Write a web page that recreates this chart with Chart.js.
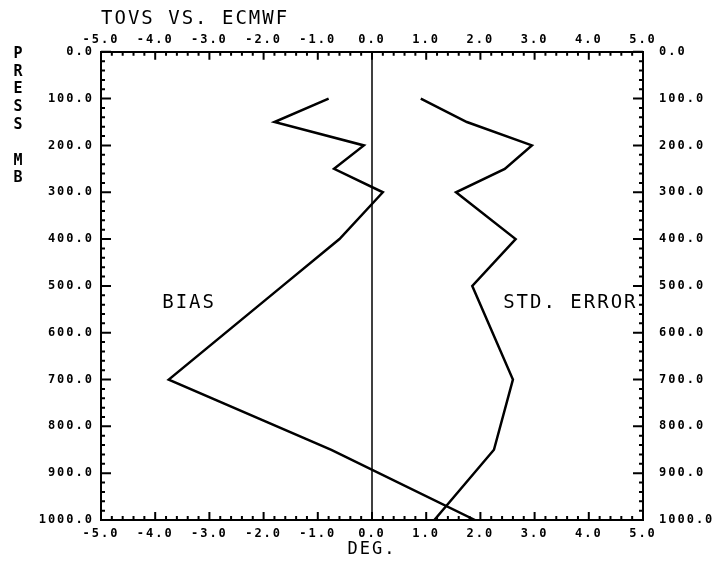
<!DOCTYPE html>
<html>
<head>
<meta charset="utf-8">
<title>TOVS vs. ECMWF</title>
<script src="https://cdn.jsdelivr.net/npm/chart.js@4.4.1/dist/chart.umd.min.js"></script>
<style>
  html, body { margin: 0; padding: 0; background: #fff; }
  #wrap { width: 714px; height: 562px; }
</style>
</head>
<body>
<div id="wrap"><canvas id="chart-area" width="714" height="562"></canvas></div>
<script>
// pressure levels (mb) and the two profiles (deg)
var levels = [100, 150, 200, 250, 300, 400, 500, 700, 850, 1000];
var bias = [-0.8, -1.8, -0.15, -0.7, 0.2, -0.6, -1.65, -3.75, -0.75, 1.9];
var stdError = [0.9, 1.75, 2.95, 2.45, 1.55, 2.65, 1.85, 2.6, 2.25, 1.15];

var degTicks = [-5, -4, -3, -2, -1, 0, 1, 2, 3, 4, 5];
var pressTicks = [0, 100, 200, 300, 400, 500, 600, 700, 800, 900, 1000];

var axisLetters = ['P', 'R', 'E', 'S', 'S', '', 'M', 'B'];
var notes = [
    { text: 'BIAS', deg: -3.87, press: 536 },
    { text: 'STD. ERROR', deg: 2.42, press: 536 }
];

var MONO = "'DejaVu Sans Mono', monospace";

function toPoints(xs) {
    return levels.map(function (p, i) { return { x: xs[i], y: p }; });
}

function fmt(v) {
    return Number(v).toFixed(1);
}

function fixTicks(list) {
    return function (scale) {
        scale.ticks = list.map(function (v) { return { value: v }; });
    };
}

var plotterText = {
    id: 'plotterText',
    beforeDraw: function (chart) {
        chart.ctx.letterSpacing = '2px';
    },
    afterDraw: function (chart) {
        var ctx = chart.ctx, a = chart.chartArea;
        var x = chart.scales.x, y = chart.scales.y;
        ctx.save();
        ctx.strokeStyle = '#000';
        ctx.lineWidth = 2;
        ctx.beginPath();
        // inward ticks, 0.2 deg and 20 mb
        for (var i = 0; i <= 50; i++) {
            var px = x.getPixelForValue(-5 + i * 0.2);
            var len = i % 5 === 0 ? 8 : 4;
            ctx.moveTo(px, a.top); ctx.lineTo(px, a.top + len);
            ctx.moveTo(px, a.bottom); ctx.lineTo(px, a.bottom - len);
        }
        for (var j = 0; j <= 50; j++) {
            var py = y.getPixelForValue(j * 20);
            var l2 = j % 5 === 0 ? 10 : 4;
            ctx.moveTo(a.left, py); ctx.lineTo(a.left + l2, py);
            ctx.moveTo(a.right, py); ctx.lineTo(a.right - l2, py);
        }
        ctx.stroke();

        ctx.fillStyle = '#000';
        ctx.textBaseline = 'middle';

        // stacked axis title
        ctx.letterSpacing = '0px';
        ctx.font = 'bold 15px ' + MONO;
        ctx.textAlign = 'center';
        axisLetters.forEach(function (ch, k) {
            ctx.fillText(ch, 18, 54 + k * 17.8);
        });

        // curve names
        ctx.letterSpacing = '2px';
        ctx.font = '19px ' + MONO;
        ctx.textAlign = 'left';
        notes.forEach(function (n) {
            ctx.fillText(n.text, x.getPixelForValue(n.deg), y.getPixelForValue(n.press));
        });
        ctx.restore();
        ctx.letterSpacing = '0px';
    }
};

window.onload = function () {
    Chart.defaults.color = '#000';
    var ctx = document.getElementById('chart-area').getContext('2d');
    window.myChart = new Chart(ctx, getconfig());
};

function getconfig() {
    var tickFont = { family: MONO, size: 12, weight: 'bold' };
    var border = { display: true, color: '#000', width: 2 };

    var config = {
        type: 'scatter',
        data: {
            datasets: [{
                label: 'BIAS',
                data: toPoints(bias),
                showLine: true,
                borderColor: '#000',
                borderWidth: 2.5,
                pointRadius: 0,
                tension: 0
            }, {
                label: 'STD. ERROR',
                data: toPoints(stdError),
                showLine: true,
                borderColor: '#000',
                borderWidth: 2.5,
                pointRadius: 0,
                tension: 0
            }, {
                label: 'zero',
                data: [{ x: 0, y: 0 }, { x: 0, y: 1000 }],
                showLine: true,
                borderColor: '#000',
                borderWidth: 1.5,
                pointRadius: 0
            }]
        },
        options: {
            responsive: false,
            animation: false,
            devicePixelRatio: 1,
            layout: { padding: 0 },
            plugins: {
                legend: { display: false },
                tooltip: { enabled: false },
                title: {
                    display: true,
                    text: 'TOVS VS. ECMWF',
                    align: 'start',
                    fullSize: false,
                    color: '#000',
                    font: { family: MONO, size: 19, weight: 'normal', lineHeight: 1.2 },
                    padding: { top: 8, bottom: 1 }
                }
            },
            scales: {
                x: {
                    type: 'linear', position: 'bottom', min: -5, max: 5,
                    afterBuildTicks: fixTicks(degTicks),
                    afterFit: function (s) { s.height = 42; },
                    grid: { display: false, drawTicks: false },
                    border: border,
                    ticks: { callback: fmt, font: tickFont, padding: 7, maxRotation: 0, autoSkip: false },
                    title: {
                        display: true, text: 'DEG.', color: '#000',
                        font: { family: MONO, size: 17, lineHeight: 1.2 },
                        padding: { top: 0, bottom: 2 }
                    }
                },
                x2: {
                    type: 'linear', position: 'top', min: -5, max: 5,
                    afterBuildTicks: fixTicks(degTicks),
                    afterFit: function (s) { s.height = 20; },
                    grid: { display: false, drawTicks: false },
                    border: border,
                    ticks: { callback: fmt, font: tickFont, padding: 5, maxRotation: 0, autoSkip: false }
                },
                y: {
                    type: 'linear', position: 'left', min: 0, max: 1000, reverse: true,
                    afterBuildTicks: fixTicks(pressTicks),
                    afterFit: function (s) { s.width = 101; },
                    grid: { display: false, drawTicks: false },
                    border: border,
                    ticks: { callback: fmt, font: tickFont, padding: 7, autoSkip: false }
                },
                y2: {
                    type: 'linear', position: 'right', min: 0, max: 1000, reverse: true,
                    afterBuildTicks: fixTicks(pressTicks),
                    afterFit: function (s) { s.width = 71; },
                    grid: { display: false, drawTicks: false },
                    border: border,
                    ticks: { callback: fmt, font: tickFont, padding: 16, autoSkip: false }
                }
            }
        },
        plugins: [plotterText]
    };

    return config;
}
</script>
</body>
</html>
